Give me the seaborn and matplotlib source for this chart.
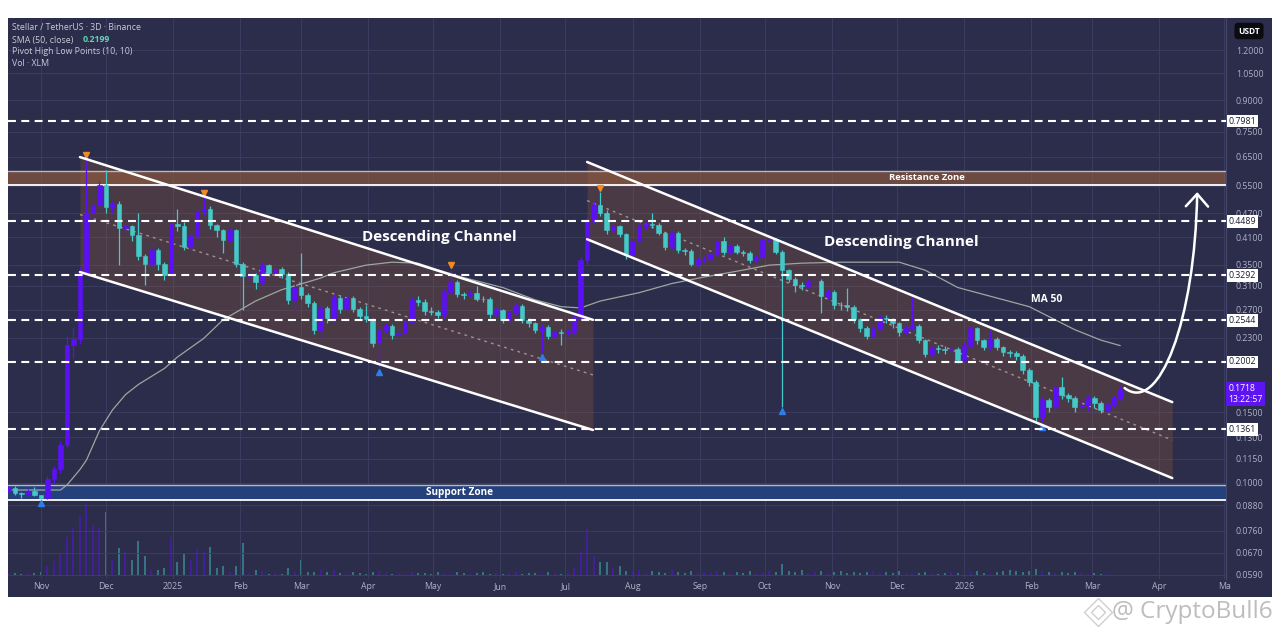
import numpy as np
import pandas as pd
import matplotlib
matplotlib.use("Agg")
import matplotlib.pyplot as plt
import matplotlib.dates as mdates
from matplotlib.path import Path
from matplotlib.patches import FancyArrowPatch, Rectangle
from matplotlib.lines import Line2D
from matplotlib.transforms import offset_copy, blended_transform_factory
import seaborn as sns

# XLM / USDT, 3 day candles
first_bar = "2024-10-17"
first_open = 0.0957
closes = [0.0970, 0.0943, 0.0940, 0.0957, 0.0933, 0.0918, 0.102, 0.108, 0.1243, 0.2206,
          0.229, 0.335, 0.470, 0.493, 0.553, 0.487, 0.497, 0.433, 0.437, 0.415,
          0.368, 0.352, 0.381, 0.352, 0.330, 0.442, 0.438, 0.388, 0.412, 0.476,
          0.482, 0.439, 0.427, 0.403, 0.427, 0.352, 0.327, 0.330, 0.317, 0.349,
          0.334, 0.342, 0.332, 0.286, 0.308, 0.294, 0.281, 0.241, 0.273, 0.258,
          0.289, 0.272, 0.289, 0.272, 0.260, 0.256, 0.223, 0.241, 0.246, 0.234,
          0.237, 0.252, 0.285, 0.283, 0.268, 0.267, 0.262, 0.300, 0.317, 0.295,
          0.294, 0.297, 0.288, 0.287, 0.263, 0.270, 0.255, 0.266, 0.276, 0.255,
          0.250, 0.241, 0.245, 0.232, 0.238, 0.236, 0.238, 0.258, 0.359, 0.450,
          0.493, 0.470, 0.427, 0.436, 0.417, 0.370, 0.400, 0.436, 0.441, 0.439,
          0.420, 0.388, 0.420, 0.381, 0.379, 0.352, 0.360, 0.361, 0.372, 0.400,
          0.377, 0.390, 0.377, 0.374, 0.360, 0.365, 0.403, 0.405, 0.377, 0.339,
          0.322, 0.311, 0.310, 0.318, 0.319, 0.293, 0.300, 0.278, 0.277, 0.275,
          0.256, 0.243, 0.233, 0.243, 0.258, 0.256, 0.250, 0.238, 0.244, 0.246,
          0.227, 0.210, 0.217, 0.216, 0.214, 0.216, 0.202, 0.220, 0.243, 0.227,
          0.218, 0.229, 0.218, 0.212, 0.211, 0.207, 0.191, 0.178, 0.1456, 0.161,
          0.1545, 0.173, 0.1656, 0.163, 0.1545, 0.156, 0.163, 0.158, 0.152, 0.157,
          0.163, 0.1718]
highs = [0.0985, 0.0985, 0.0950, 0.0965, 0.0975, 0.0935, 0.104, 0.110, 0.127, 0.232,
         0.243, 0.345, 0.637, 0.505, 0.565, 0.603, 0.505, 0.505, 0.445, 0.440,
         0.470, 0.372, 0.395, 0.385, 0.356, 0.450, 0.482, 0.447, 0.420, 0.485,
         0.515, 0.490, 0.442, 0.430, 0.432, 0.430, 0.355, 0.338, 0.333, 0.356,
         0.352, 0.348, 0.345, 0.335, 0.315, 0.374, 0.298, 0.284, 0.280, 0.276,
         0.296, 0.292, 0.296, 0.292, 0.275, 0.278, 0.258, 0.246, 0.250, 0.249,
         0.242, 0.257, 0.290, 0.292, 0.287, 0.274, 0.270, 0.305, 0.339, 0.320,
         0.300, 0.302, 0.310, 0.292, 0.290, 0.274, 0.272, 0.270, 0.281, 0.279,
         0.258, 0.252, 0.249, 0.248, 0.241, 0.242, 0.244, 0.262, 0.365, 0.460,
         0.505, 0.530, 0.480, 0.442, 0.440, 0.420, 0.407, 0.447, 0.450, 0.470,
         0.445, 0.423, 0.425, 0.424, 0.385, 0.382, 0.365, 0.367, 0.378, 0.407,
         0.410, 0.395, 0.395, 0.380, 0.378, 0.370, 0.410, 0.412, 0.408, 0.380,
         0.342, 0.326, 0.316, 0.322, 0.325, 0.322, 0.304, 0.303, 0.282, 0.306,
         0.278, 0.258, 0.246, 0.247, 0.262, 0.262, 0.258, 0.252, 0.247, 0.290,
         0.249, 0.229, 0.220, 0.221, 0.219, 0.220, 0.218, 0.224, 0.248, 0.245,
         0.229, 0.240, 0.231, 0.220, 0.215, 0.213, 0.209, 0.193, 0.180, 0.164,
         0.163, 0.176, 0.1836, 0.168, 0.165, 0.163, 0.166, 0.165, 0.160, 0.160,
         0.166, 0.174]
lows = [0.0950, 0.0935, 0.0915, 0.0935, 0.0925, 0.0914, 0.0912, 0.100, 0.106, 0.122,
        0.205, 0.222, 0.330, 0.455, 0.480, 0.470, 0.470, 0.349, 0.420, 0.400,
        0.360, 0.311, 0.345, 0.340, 0.320, 0.325, 0.425, 0.380, 0.380, 0.405,
        0.465, 0.430, 0.410, 0.375, 0.398, 0.345, 0.270, 0.318, 0.305, 0.312,
        0.328, 0.330, 0.325, 0.280, 0.265, 0.288, 0.275, 0.235, 0.227, 0.250,
        0.252, 0.265, 0.268, 0.266, 0.255, 0.252, 0.218, 0.194, 0.236, 0.229,
        0.230, 0.234, 0.250, 0.276, 0.262, 0.262, 0.257, 0.258, 0.296, 0.290,
        0.288, 0.290, 0.284, 0.282, 0.258, 0.260, 0.250, 0.252, 0.262, 0.250,
        0.245, 0.236, 0.212, 0.228, 0.230, 0.221, 0.232, 0.235, 0.255, 0.350,
        0.445, 0.462, 0.418, 0.420, 0.410, 0.362, 0.365, 0.395, 0.430, 0.432,
        0.414, 0.380, 0.383, 0.375, 0.370, 0.347, 0.348, 0.355, 0.356, 0.368,
        0.370, 0.372, 0.372, 0.368, 0.354, 0.355, 0.362, 0.396, 0.372, 0.155,
        0.316, 0.300, 0.302, 0.306, 0.313, 0.265, 0.288, 0.272, 0.270, 0.268,
        0.250, 0.238, 0.228, 0.230, 0.240, 0.250, 0.244, 0.233, 0.235, 0.240,
        0.223, 0.206, 0.207, 0.211, 0.209, 0.210, 0.199, 0.200, 0.218, 0.222,
        0.214, 0.215, 0.214, 0.207, 0.206, 0.203, 0.187, 0.174, 0.143, 0.1415,
        0.150, 0.152, 0.162, 0.159, 0.150, 0.152, 0.151, 0.154, 0.149, 0.149,
        0.155, 0.161]
vol_m = [3, 3, 2, 3, 3, 4, 10, 15, 23, 39,
         48, 61, 73, 51, 48, 64, 16, 28, 24, 16,
         35, 20, 6, 6, 8, 39, 14, 22, 16, 27,
         24, 29, 8, 10, 4, 10, 33, 3, 6, 5,
         2, 3, 2, 8, 4, 16, 4, 4, 6, 4,
         6, 3, 2, 4, 3, 2, 4, 5, 3, 2,
         3, 2, 4, 3, 3, 2, 4, 3, 2, 4,
         3, 2, 3, 4, 2, 3, 2, 3, 4, 2,
         3, 3, 2, 4, 3, 2, 3, 8, 24, 47,
         20, 14, 14, 8, 10, 5, 4, 6, 3, 5,
         4, 3, 6, 4, 3, 5, 3, 4, 3, 5,
         4, 3, 4, 3, 5, 3, 4, 5, 4, 12,
         5, 4, 6, 3, 4, 5, 3, 4, 5, 3,
         4, 3, 4, 5, 3, 4, 3, 5, 3, 2,
         3, 4, 3, 2, 3, 4, 3, 2, 4, 5,
         3, 2, 4, 5, 6, 5, 4, 5, 7, 5,
         4, 3, 4, 3, 4, 3, 2, 3, 2, 2,
         1, 1]

pivot_high_bars = [12, 30, 68, 91]
pivot_low_bars = [5, 57, 82, 119, 159]

# SMA(50)
sma_bar = [0, 8, 9, 11, 12, 14, 16, 18, 20, 24, 26, 30, 33, 38, 42, 48, 50, 55, 59, 63,
           66, 70, 76, 81, 85, 88, 91, 97, 102, 107, 112, 117, 122, 128, 137, 141, 146,
           151, 157, 161, 164, 168, 171]
sma_val = [0.096, 0.096, 0.0988, 0.108, 0.114, 0.135, 0.152, 0.166, 0.176, 0.193, 0.206,
           0.229, 0.255, 0.284, 0.303, 0.324, 0.334, 0.349, 0.355, 0.353, 0.340, 0.325,
           0.307, 0.286, 0.275, 0.273, 0.284, 0.298, 0.314, 0.326, 0.337, 0.349, 0.353,
           0.355, 0.355, 0.339, 0.307, 0.292, 0.275, 0.255, 0.241, 0.227, 0.2199]

levels = [0.7981, 0.4489, 0.3292, 0.2544, 0.2002, 0.1361]
resistance_zone = [0.553, 0.5994]
support_zone = [0.0907, 0.0988]

ch1_x = ["2024-11-19T00:00", "2025-07-13T16:00"]
ch1_upper = [0.649, 0.255]
ch1_lower = [0.3355, 0.1355]
ch2_x = ["2025-07-11T00:00", "2026-04-07T00:00"]
ch2_upper = [0.631, 0.159]
ch2_lower = [0.405, 0.1028]

arrow_x = ["2026-03-16T00:00", "2026-04-01T00:00", "2026-04-17T12:00", "2026-04-18T12:00"]
arrow_y = [0.1724, 0.1477, 0.255, 0.531]

price_ticks = [1.2, 1.05, 0.9, 0.75, 0.65, 0.55, 0.47, 0.41, 0.35, 0.31, 0.27, 0.23,
               0.15, 0.13, 0.115, 0.1, 0.088, 0.076, 0.067, 0.059]
month_ticks = ["2024-11-01", "2024-12-01", "2025-01-01", "2025-02-01", "2025-03-01",
               "2025-04-01", "2025-05-01", "2025-06-01", "2025-07-01", "2025-08-01",
               "2025-09-01", "2025-10-01", "2025-11-01", "2025-12-01", "2026-01-01",
               "2026-02-01", "2026-03-01", "2026-04-01", "2026-05-01"]
month_labels = ["Nov", "Dec", "2025", "Feb", "Mar", "Apr", "May", "Jun", "Jul", "Aug",
                "Sep", "Oct", "Nov", "Dec", "2026", "Feb", "Mar", "Apr", "Ma"]

last_price = 0.1718
countdown = "13:22:57"

BG = "#2c2d4b"
GRID = "#3a3d5f"
UP = "#5b10f7"
DOWN = "#45c8c8"
AXTXT = "#aeb1c6"
BROWN = "#9c5f3a"


def to_num(d):
    return mdates.date2num(pd.to_datetime(d, format="ISO8601"))


sns.set_theme(style="dark")
plt.rcParams["font.family"] = ["Open Sans", "DejaVu Sans"]

W, H = 1280, 639
fig = plt.figure(figsize=(12.8, 6.39), dpi=100, facecolor="white")
fig.add_artist(Rectangle((8 / W, 1 - 597 / H), 1264 / W, 579 / H, transform=fig.transFigure,
                         fc=BG, ec="none", zorder=-5))
rect = [8 / W, 1 - 579 / H, 1218 / W, 561 / H]

dates = pd.date_range(first_bar, periods=len(closes), freq="3D")
xd = mdates.date2num(dates)
c = np.array(closes)
o = np.r_[first_open, c[:-1]]
col = np.where(c >= o, UP, DOWN)
xlim = to_num(["2024-10-16T19:00", "2026-05-01T19:00"])

# volume pane (behind)
axv = fig.add_axes(rect)
axv.axis("off")
axv.vlines(xd, 0, vol_m, colors=col, lw=1.3, alpha=0.5)
axv.set_xlim(xlim)
axv.set_ylim(-3, 558)

ax = fig.add_axes(rect)
ax.set_facecolor("none")
ax.set_yscale("log")
band = blended_transform_factory(ax.transAxes, ax.transData)

# channels
for cx, cu, cl in [(ch1_x, ch1_upper, ch1_lower), (ch2_x, ch2_upper, ch2_lower)]:
    xx = to_num(cx)
    ax.fill_between(xx, cl, cu, color=BROWN, alpha=0.27, lw=0, zorder=1)
    ax.plot(xx, np.sqrt(np.array(cu) * np.array(cl)), color="#a59090", lw=1,
            ls=(0, (2, 3)), zorder=2)

# zones
ax.axhspan(*resistance_zone, color=BROWN, alpha=0.58, lw=0, zorder=1.5)
ax.axhline(resistance_zone[1], color="#b9b9c4", lw=1, zorder=2)
ax.axhline(resistance_zone[0], color="white", lw=1.3, zorder=2)
ax.axhspan(*support_zone, color="#24437e", alpha=0.95, lw=0, zorder=1.5)
ax.axhline(support_zone[1], color="#b9b9c4", lw=1, zorder=2)
ax.axhline(support_zone[0], color="white", lw=1.3, zorder=2)

# SMA 50
sns.lineplot(x=dates[sma_bar], y=sma_val, ax=ax, color="#9ca79f", lw=0.9, zorder=3)

# candles
ax.vlines(xd, lows, highs, colors=col, lw=0.9, zorder=4)
ax.bar(xd, np.abs(c - o), bottom=np.minimum(o, c), width=2.1, color=col,
       edgecolor=col, lw=0.4, zorder=5)

# pivot markers
up_tr = offset_copy(ax.transData, fig=fig, y=3.5, units="points")
dn_tr = offset_copy(ax.transData, fig=fig, y=-3.5, units="points")
ax.plot(xd[pivot_high_bars], np.array(highs)[pivot_high_bars], "v", color="#f08a24",
        ms=4.5, transform=up_tr, zorder=6)
ax.plot(xd[pivot_low_bars], np.array(lows)[pivot_low_bars], "^", color="#2f7de8",
        ms=4.5, transform=dn_tr, zorder=6)

# channel lines
for cx, cu, cl in [(ch1_x, ch1_upper, ch1_lower), (ch2_x, ch2_upper, ch2_lower)]:
    xx = to_num(cx)
    ax.plot(xx, cu, color="white", lw=1.8, solid_capstyle="round", zorder=7)
    ax.plot(xx, cl, color="white", lw=1.8, solid_capstyle="round", zorder=7)

# key levels
ytr = ax.get_yaxis_transform()
for lv in levels:
    ax.axhline(lv, color="white", lw=1.5, dashes=(3.8, 2.6), zorder=6)
    ax.text(1.002, lv, f"{lv:.4f}", transform=ytr, ha="left", va="center", fontsize=6.3,
            color="#1c1c2c", clip_on=False, zorder=10,
            bbox=dict(boxstyle="square,pad=0.22", fc="white", ec="none"))

# upside arrow
av = np.column_stack([to_num(arrow_x), arrow_y])
arrow = FancyArrowPatch(path=Path(av, [Path.MOVETO, Path.CURVE4, Path.CURVE4, Path.CURVE4]),
                        arrowstyle="->,head_length=0.45,head_width=0.4", mutation_scale=20,
                        color="white", lw=1.8, zorder=8)
ax.add_patch(arrow)

# annotations
bold = dict(color="white", fontweight="bold", ha="center", va="center", zorder=9)
ax.text(to_num("2025-05-04"), 0.410, "Descending Channel", fontsize=11, **bold)
ax.text(to_num("2025-12-03"), 0.3986, "Descending Channel", fontsize=11, **bold)
ax.text(to_num("2026-02-08"), 0.2873, "MA 50", fontsize=7.5, **bold)
ax.text(0.7545, np.sqrt(resistance_zone[0] * resistance_zone[1]), "Resistance Zone",
        transform=band, fontsize=6.8, **bold)
ax.text(0.371, np.sqrt(support_zone[0] * support_zone[1]), "Support Zone",
        transform=band, fontsize=7.2, **bold)

# last price tag
ax.text(1.002, 0.1666, f"{last_price:.4f}\n{countdown}", transform=ytr, ha="left",
        va="center", fontsize=6.2, color="white", linespacing=1.15, clip_on=False,
        zorder=10, bbox=dict(boxstyle="square,pad=0.3", fc="#5d14f2", ec="none"))

# axes cosmetics
ax.set_xlim(xlim)
ax.set_ylim(0.0576, 1.442)
ax.yaxis.set_minor_locator(matplotlib.ticker.NullLocator())
ax.yaxis.tick_right()
ax.set_yticks(price_ticks)
ax.set_yticklabels([f"{t:.4f}" for t in price_ticks])
ax.set_xticks(to_num(month_ticks))
ax.set_xticklabels(month_labels)
ax.tick_params(axis="y", length=0, pad=7, labelsize=6.3, labelcolor=AXTXT)
ax.tick_params(axis="x", length=0, pad=2.5, labelsize=6.3, labelcolor=AXTXT)
ax.set_xlabel("")
ax.set_ylabel("")
ax.set_axisbelow(True)
ax.grid(True, color=GRID, lw=0.7)
for s in ["top", "left", "bottom"]:
    ax.spines[s].set_visible(False)
ax.spines["right"].set_color("#44486a")
ax.spines["right"].set_linewidth(0.8)

# header / legend text
leg = "#c9cbd8"
fig.text(12 / W, 1 - 28 / H, "Stellar / TetherUS · 3D · Binance", fontsize=6.3, color=leg, va="center")
fig.text(12 / W, 1 - 40 / H, "SMA (50, close)", fontsize=6.3, color=leg, va="center")
fig.text(83 / W, 1 - 40 / H, "0.2199", fontsize=6.3, color="#5fd3b0", va="center",
         fontweight="bold")
fig.text(12 / W, 1 - 52 / H, "Pivot High Low Points (10, 10)", fontsize=6.3, color=leg, va="center")
fig.text(12 / W, 1 - 64 / H, "Vol · XLM", fontsize=6.3, color=leg, va="center")
fig.text(1249 / W, 1 - 31 / H, "USDT", fontsize=6, color="white", ha="center", va="center",
         fontweight="bold", bbox=dict(boxstyle="round,pad=0.45", fc="#0b0b12", ec="none"))

# watermark
for ms, mw in [(14, 1.0), (7, 1.0)]:
    fig.add_artist(Line2D([1098 / W], [1 - 612 / H], marker="D", ms=ms, mfc="none",
                          mec="#cfcfcf", mew=mw, transform=fig.transFigure))
fig.text(1112 / W, 1 - 612 / H, "@ CryptoBull6", fontsize=17.5, color="#bdbdbd", va="center")

fig.savefig("out.png", dpi=100, facecolor="white")
